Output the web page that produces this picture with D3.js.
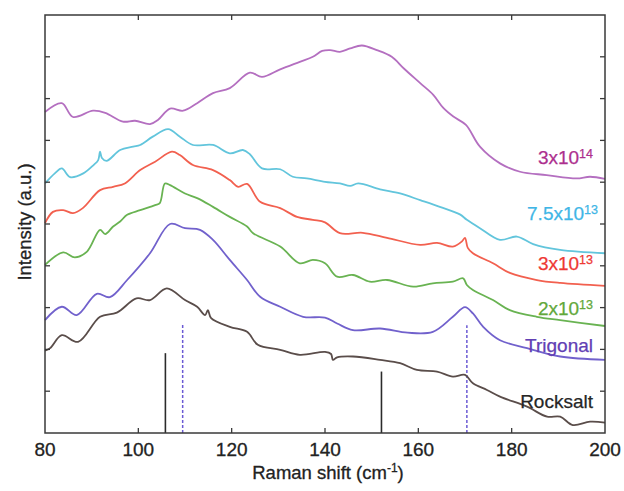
<!DOCTYPE html>
<html><head><meta charset="utf-8">
<script src="https://cdn.jsdelivr.net/npm/d3@7"></script>
<style>
html,body{margin:0;padding:0;background:#fff;}
text{font-family:"Liberation Sans",Arial,sans-serif;}
</style></head>
<body><svg id="chart" width="624" height="491"></svg>
<script>
// ---- data (Raman shift cm-1, intensity a.u. offset) ----
const xTicks = [80,100,120,140,160,180,200];
const yTicks = [1,2,3,4,5,6,7,8,9];

const shift14 = [80,83.6,86.0,90.3,92.9,96.7,99.3,102.5,104.2,106.8,109.6,112.6,116.0,119.6,123.9,126.5,130.4,134.6,137.4,139.4,141.1,143.2,145.4,147.9,151.1,154.3,156.9,160.4,163.2,165.4,167.5,170.2,173.2,177.5,181.8,187.5,193.9,196.8,200];
const int14   = [7.68,7.89,7.56,7.71,7.66,7.45,7.47,7.39,7.49,7.76,7.71,7.89,8.13,8.25,8.62,8.52,8.70,8.88,9.00,9.14,9.16,9.12,9.20,9.27,9.16,9.00,8.72,8.37,8.09,7.77,7.57,7.37,6.85,6.45,6.25,6.17,6.09,6.13,6.08];

const shift75 = [80,82.1,83.6,85.4,88.2,90.4,91.4,91.8,92.2,93.2,96.1,98.9,100.4,103.1,106.4,108.9,111.7,116.0,119.6,122.4,123.9,126.5,130.4,133.1,136.1,140.0,143.2,145.4,147.1,151.8,156.1,160.4,164.6,168.9,170.4,173.2,177.5,181.1,184.6,190.4,200];
const int75   = [5.97,6.21,6.33,6.12,6.21,6.41,6.53,6.73,6.58,6.51,6.77,6.85,6.89,7.09,7.27,7.09,6.89,6.89,6.69,6.77,6.67,6.33,6.31,6.13,6.09,6.01,5.97,5.91,5.97,5.83,5.73,5.57,5.41,5.23,5.10,4.90,4.62,4.70,4.52,4.38,4.30];

const shift3e13 = [80,81.7,83.9,86.0,88.1,91.8,94.6,97.1,100.4,103.6,107.2,108.9,111.7,116.0,119.6,121.4,123.3,126.1,130.4,134.0,137.4,140.0,143.2,148.1,153.3,160.4,164.0,167.4,169.4,170.0,170.6,171.7,176.0,179.6,185.4,190.4,200];
const int3e13   = [5.02,5.29,5.33,5.26,5.38,5.81,5.89,5.97,6.29,6.49,6.73,6.65,6.41,6.29,6.05,5.89,5.96,5.53,5.38,5.17,5.10,5.04,4.78,4.79,4.67,4.50,4.55,4.46,4.59,4.67,4.43,4.30,4.06,3.83,3.66,3.59,3.52];

const shift2e13 = [80,83.9,86.4,89.0,91.8,92.9,94.6,96.1,97.6,100.4,103.6,104.6,105.7,106.8,110.0,112.6,116.0,119.6,123.3,124.6,130.4,134.6,137.4,140.0,142.6,146.0,149.6,153.3,158.9,163.1,167.4,169.6,170.4,171.7,176.0,179.6,185.4,190.4,200];
const int2e13   = [4.02,4.32,4.20,4.34,4.86,4.76,4.94,5.06,5.22,5.33,5.45,5.50,5.97,5.93,5.73,5.62,5.41,5.17,4.94,4.78,4.46,4.06,4.14,4.06,3.74,3.78,3.62,3.66,3.50,3.58,3.62,3.70,3.54,3.42,3.18,2.94,2.78,2.70,2.56];

const shiftTrig = [80,83.6,86.8,91.1,93.9,97.6,102.5,106.8,110.0,113.2,116.0,119.6,123.3,126.1,130.4,135.3,140.0,142.6,146.0,151.8,157.7,163.1,167.4,170.0,171.7,173.9,177.5,183.3,190.4,200];
const intTrig   = [2.70,3.02,2.82,3.33,3.25,3.66,4.30,5.00,4.90,4.86,4.62,4.14,3.66,3.26,3.02,2.78,2.76,2.62,2.46,2.50,2.40,2.42,2.78,3.01,2.86,2.54,2.22,2.03,1.83,1.75];

const shiftRock = [80,81.1,83.6,87.1,91.8,95.4,99.6,102.5,106.1,110.0,112.6,114.3,114.9,115.6,119.6,123.3,125.6,130.4,134.6,140.0,141.3,141.7,142.6,146.0,151.8,156.1,159.7,164.0,167.4,170.0,171.7,174.7,177.5,183.3,187.6,190.4,193.1,196.8,200];
const intRock   = [1.97,2.03,2.34,2.18,2.78,2.88,3.22,3.18,3.46,3.18,3.02,2.82,2.94,2.75,2.54,2.42,2.11,1.99,1.87,1.94,1.89,1.75,1.81,1.83,1.75,1.67,1.51,1.47,1.35,1.39,1.19,1.03,0.87,0.63,0.39,0.39,0.19,0.27,0.25];

// reference peak positions (cm-1) and heights
const rockPeaks = [105.8,152.1];
const rockPeakH = [1.91,1.47];
const trigPeaks = [109.5,170.4];
const trigPeakH = [2.63,2.58];

const labelNames = ["3x10","7.5x10","3x10","2x10","Trigonal","Rocksalt"];
const labelSups  = ["14","13","13","13","",""];
const labelY     = [6.44,5.10,3.90,2.82,1.94,0.60];

// ---- drawing ----
const svg = d3.select("#chart");
const L=45,R=605,T=15,B=433;
const x = d3.scaleLinear().domain([80,200]).range([L,R]);
const y = d3.scaleLinear().domain([0,10]).range([B,T]);

const series = [
  {xs:shift14,ys:int14,c:"#b46fc0",lc:"#ad2f8e"},
  {xs:shift75,ys:int75,c:"#62c5dc",lc:"#3fb6e6"},
  {xs:shift3e13,ys:int3e13,c:"#f2604f",lc:"#ee3833"},
  {xs:shift2e13,ys:int2e13,c:"#69b352",lc:"#62a83a"},
  {xs:shiftTrig,ys:intTrig,c:"#7161cc",lc:"#6240b4"},
  {xs:shiftRock,ys:intRock,c:"#5a4d4a",lc:"#262626"}
];

// reference sticks
const stickG = svg.append("g");
stickG.selectAll("line.r").data(rockPeaks).join("line")
  .attr("x1",d=>x(d)).attr("x2",d=>x(d))
  .attr("y1",y(0)).attr("y2",(d,i)=>y(rockPeakH[i]))
  .attr("stroke","#2b2b2b").attr("stroke-width",1.6);
stickG.selectAll("line.t").data(trigPeaks).join("line")
  .attr("x1",d=>x(d)).attr("x2",d=>x(d))
  .attr("y1",y(0)).attr("y2",(d,i)=>y(trigPeakH[i]))
  .attr("stroke","#6b5ad4").attr("stroke-width",1.5).attr("stroke-dasharray","3,2");

const line = d3.line().x(d=>x(d[0])).y(d=>y(d[1])).curve(d3.curveCatmullRom.alpha(0.5));
series.forEach(s=>{
  svg.append("path").datum(s.xs.map((v,i)=>[v,s.ys[i]]))
    .attr("d",line).attr("fill","none").attr("stroke",s.c).attr("stroke-width",1.8);
});

// frame & ticks (inward)
svg.append("rect").attr("x",L).attr("y",T).attr("width",R-L).attr("height",B-T)
  .attr("fill","none").attr("stroke","#3a3a3a").attr("stroke-width",1.5);
const tl=5;
const g = svg.append("g").attr("stroke","#3a3a3a").attr("stroke-width",1.3);
xTicks.slice(1,-1).forEach(t=>{
  g.append("line").attr("x1",x(t)).attr("x2",x(t)).attr("y1",B).attr("y2",B-tl);
  g.append("line").attr("x1",x(t)).attr("x2",x(t)).attr("y1",T).attr("y2",T+tl);
});
yTicks.forEach(t=>{
  g.append("line").attr("x1",L).attr("x2",L+tl).attr("y1",y(t)).attr("y2",y(t));
  g.append("line").attr("x1",R).attr("x2",R-tl).attr("y1",y(t)).attr("y2",y(t));
});
svg.append("g").selectAll("text").data(xTicks).join("text")
  .attr("x",d=>x(d)).attr("y",456).attr("text-anchor","middle")
  .attr("font-size",19).attr("fill","#222").attr("stroke","#222").attr("stroke-width",0.3).text(d=>d);

// axis titles
svg.append("text").attr("x",L+(R-L)/2+3).attr("y",479).attr("text-anchor","middle")
  .attr("font-size",18.5).attr("fill","#222").attr("stroke","#222").attr("stroke-width",0.3)
  .html('Raman shift (cm<tspan dy="-7" font-size="12">-1</tspan><tspan dy="7">)</tspan>');
svg.append("text").attr("transform","translate(31,222) rotate(-90)").attr("text-anchor","middle")
  .attr("font-size",18.5).attr("fill","#222").attr("stroke","#222").attr("stroke-width",0.3).text("Intensity (a.u.)");

// series labels
series.forEach((s,i)=>{
  const t = svg.append("text").attr("x", i===1 ? 598 : 593).attr("y",y(labelY[i]))
    .attr("text-anchor","end").attr("font-size",19).attr("fill",s.lc)
    .attr("stroke",s.lc).attr("stroke-width",0.25);
  t.append("tspan").text(labelNames[i]);
  if(labelSups[i]) t.append("tspan").attr("dy",-6).attr("font-size",12.5).text(labelSups[i]);
});
</script></body></html>
